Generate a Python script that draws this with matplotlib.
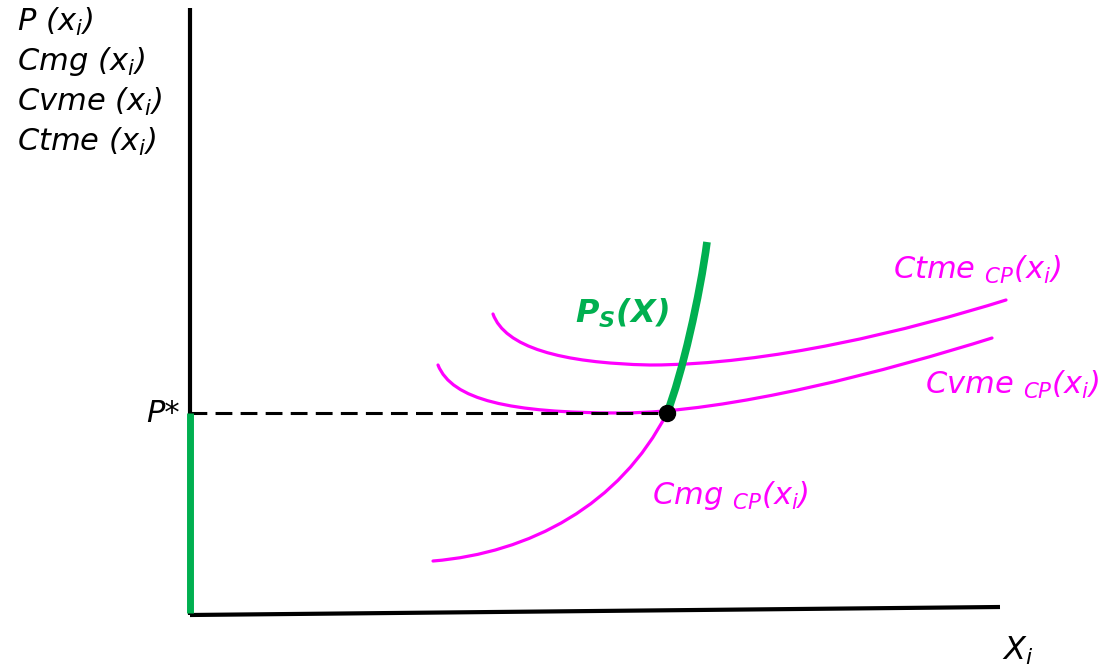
import matplotlib
matplotlib.use("Agg")
import matplotlib.pyplot as plt
from matplotlib.path import Path
from matplotlib.patches import PathPatch

plt.rcParams['mathtext.fontset'] = 'custom'
plt.rcParams['mathtext.rm'] = 'DejaVu Sans:oblique'
plt.rcParams['mathtext.it'] = 'DejaVu Sans:oblique'
plt.rcParams['mathtext.bf'] = 'DejaVu Sans:bold:oblique'

MAGENTA = '#FF00FF'
GREEN = '#00B050'

# Curve data as cubic Bezier control points (units: origin at axes corner)
cmg_x = [243, 340, 430, 477]
cmg_y = [54, 62, 110, 202]

ps_x = [477, 492, 510, 517]
ps_y = [202, 240, 320, 373]

cvme_x = [248, 262, 320, 430, 540, 700, 802]
cvme_y = [250, 215, 202, 202, 202, 245, 277]

ctme_x = [303, 315, 370, 460, 580, 720, 816]
ctme_y = [301, 268, 252, 250, 250, 285, 315]

p_star = 202
x_eq = 477

fig = plt.figure(figsize=(11.02, 6.71), dpi=100)
ax = fig.add_axes([0, 0, 1, 1])
ax.set_xlim(-190, 912)
ax.set_ylim(-56, 615)
ax.axis('off')


def bezier(xs, ys, color, lw, z, cap='round'):
    verts = list(zip(xs, ys))
    codes = [Path.MOVETO] + [Path.CURVE4] * (len(verts) - 1)
    patch = PathPatch(Path(verts, codes), facecolor='none', edgecolor=color,
                      lw=lw, zorder=z, capstyle=cap)
    ax.add_patch(patch)


# axes lines
ax.plot([0, 0], [0, 607], color='black', lw=3, solid_capstyle='butt', zorder=3)
ax.plot([0, 810], [0, 8], color='black', lw=3, solid_capstyle='butt', zorder=3)
ax.plot([0, 0], [2, p_star], color=GREEN, lw=5, solid_capstyle='butt', zorder=4)

# curves
bezier(cmg_x, cmg_y, MAGENTA, 2.3, 2)
bezier(cvme_x, cvme_y, MAGENTA, 2.3, 2)
bezier(ctme_x, ctme_y, MAGENTA, 2.3, 2)
bezier(ps_x, ps_y, GREEN, 5.5, 4, cap='butt')

# dashed P*
ax.plot([0, x_eq], [p_star, p_star], color='black', lw=2.2, dashes=(5.5, 2.7), zorder=3)
ax.plot([x_eq], [p_star], 'o', color='black', ms=11.5, zorder=5)

fs = 22
# y labels
for i, t in enumerate([r'$P\ (x_i)$', r'$Cmg\ (x_i)$', r'$Cvme\ (x_i)$', r'$Ctme\ (x_i)$']):
    ax.text(-173, 593 - i * 40, t, fontsize=fs, ha='left', va='center')

ax.text(-10, p_star, 'P*', fontsize=fs, fontstyle='italic', ha='right', va='center')
ax.text(812, -36, r'$X_i$', fontsize=fs + 1, ha='left', va='center')

ax.text(703, 345, r'$Ctme\ {}_{CP}(x_i)$', fontsize=fs, ha='left', va='center', color=MAGENTA)
ax.text(735, 230, r'$Cvme\ {}_{CP}(x_i)$', fontsize=fs, ha='left', va='center', color=MAGENTA)
ax.text(462, 120, r'$Cmg\ {}_{CP}(x_i)$', fontsize=fs, ha='left', va='center', color=MAGENTA)
ax.text(385, 302, r'$\mathbf{P_S(X)}$', fontsize=fs + 1, ha='left', va='center', color=GREEN)

fig.savefig('out.png', dpi=100)
